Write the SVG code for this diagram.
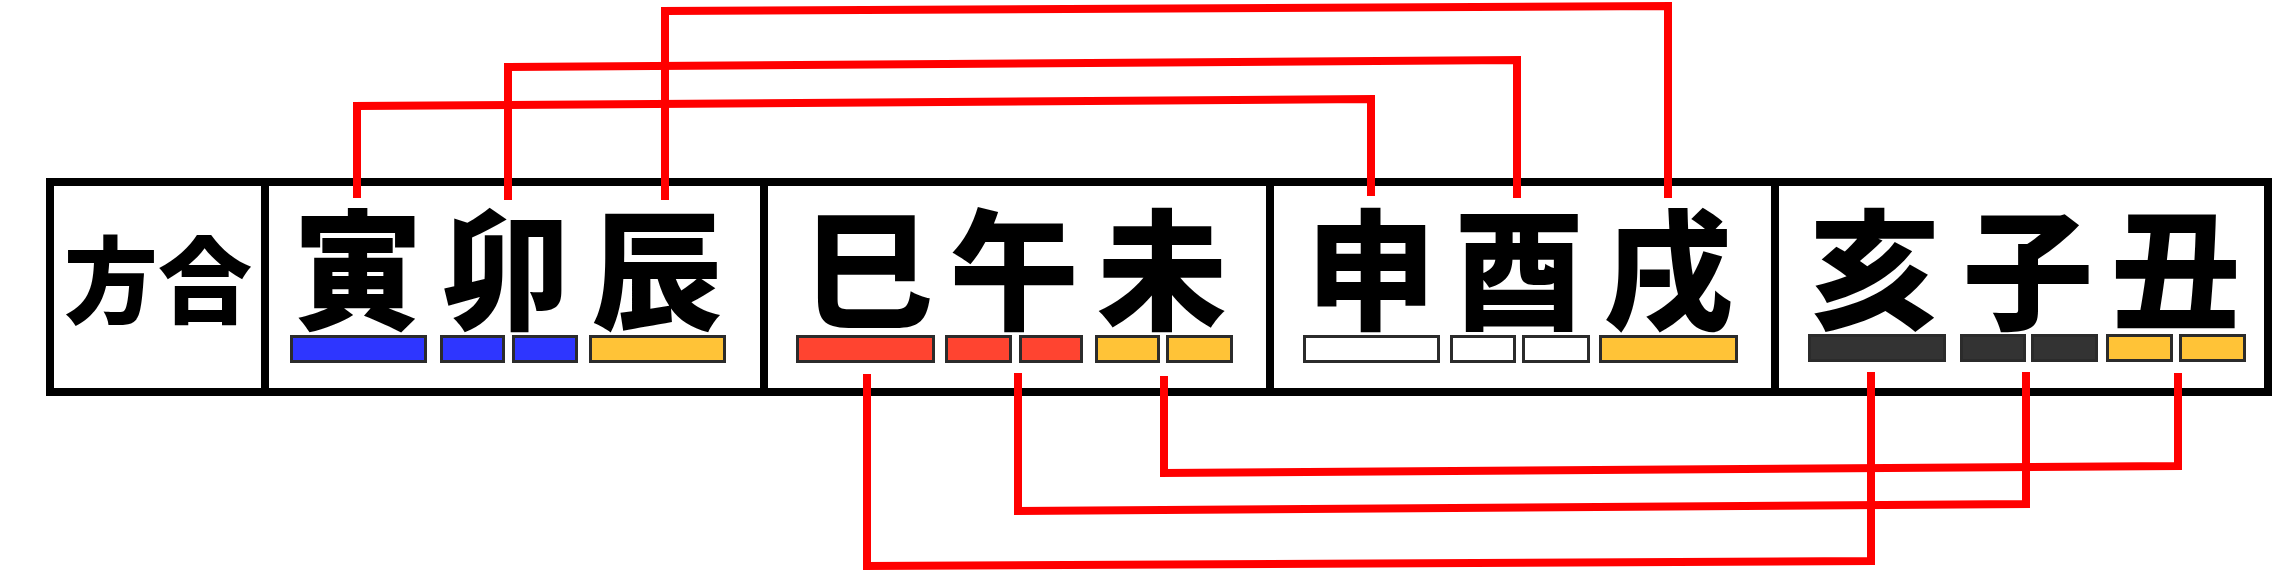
<svg xmlns="http://www.w3.org/2000/svg" width="2273" height="573" viewBox="0 0 2273 573">
<style>
.frame{fill:#fff;stroke:#000;stroke-width:8}
.div{stroke:#000;stroke-width:8}
.lbl{font-family:"Noto Sans CJK JP","Noto Sans CJK SC",sans-serif;font-weight:900;font-size:94px;fill:#000}
.ch{font-family:"Noto Sans CJK JP","Noto Sans CJK SC",sans-serif;font-weight:900;font-size:130px;fill:#000;text-anchor:middle}
.bar{stroke:#2b2b2b;stroke-width:3}
.blue{fill:#2e36ff}.red{fill:#ff4430}.yel{fill:#ffc337}.wht{fill:#fff}.drk{fill:#333}
.con{fill:none;stroke:#ff0000;stroke-width:8;stroke-linejoin:miter}
</style>
<rect class="frame" x="50" y="182" width="2218" height="210"/>
<g id="dividers">
<line class="div" x1="265" y1="182" x2="265" y2="392"/>
<line class="div" x1="764" y1="182" x2="764" y2="392"/>
<line class="div" x1="1270" y1="182" x2="1270" y2="392"/>
<line class="div" x1="1775" y1="182" x2="1775" y2="392"/>
</g>
<g id="label"><text class="lbl" x="158" y="316" text-anchor="middle">方合</text></g>
<g id="east">
<text class="ch" x="358" y="319">寅</text>
<text class="ch" x="506" y="319">卯</text>
<text class="ch" x="657" y="319">辰</text>
<rect class="bar blue" x="291.5" y="336.5" width="134" height="25"/>
<rect class="bar blue" x="441.5" y="336.5" width="62" height="25"/>
<rect class="bar blue" x="513.5" y="336.5" width="63" height="25"/>
<rect class="bar yel" x="590.5" y="336.5" width="134" height="25"/>
</g>
<g id="south">
<text class="ch" x="868" y="319">巳</text>
<text class="ch" x="1014" y="319">午</text>
<text class="ch" x="1162" y="319">未</text>
<rect class="bar red" x="797.5" y="336.5" width="136" height="25"/>
<rect class="bar red" x="946.5" y="336.5" width="64" height="25"/>
<rect class="bar red" x="1020.5" y="336.5" width="61" height="25"/>
<rect class="bar yel" x="1096.5" y="336.5" width="62" height="25"/>
<rect class="bar yel" x="1167.5" y="336.5" width="64" height="25"/>
</g>
<g id="west">
<text class="ch" x="1371" y="319">申</text>
<text class="ch" x="1519" y="319">酉</text>
<text class="ch" x="1668" y="319">戌</text>
<rect class="bar wht" x="1304.5" y="336.5" width="134" height="25"/>
<rect class="bar wht" x="1451.5" y="336.5" width="63" height="25"/>
<rect class="bar wht" x="1523.5" y="336.5" width="65" height="25"/>
<rect class="bar yel" x="1600.5" y="336.5" width="136" height="25"/>
</g>
<g id="north">
<text class="ch" x="1875" y="319">亥</text>
<text class="ch" x="2028" y="319">子</text>
<text class="ch" x="2176" y="319">丑</text>
<rect class="bar drk" x="1809.5" y="335.5" width="135" height="25"/>
<rect class="bar drk" x="1961.5" y="335.5" width="63" height="25"/>
<rect class="bar drk" x="2032.5" y="335.5" width="64" height="25"/>
<rect class="bar yel" x="2107.5" y="335.5" width="64" height="25"/>
<rect class="bar yel" x="2180.5" y="335.5" width="64" height="25"/>
</g>
<g id="connectors">
<path class="con" d="M357,198 V106 L1371,99 V196"/>
<path class="con" d="M508,200 V67 L1517,60 V198"/>
<path class="con" d="M665,200 V11 L1668,6 V198"/>
<path class="con" d="M867,374 V566 L1871,561 V372"/>
<path class="con" d="M1018,373 V511 L2026,504 V372"/>
<path class="con" d="M1164,376 V473 L2178,466 V373"/>
</g>
</svg>
